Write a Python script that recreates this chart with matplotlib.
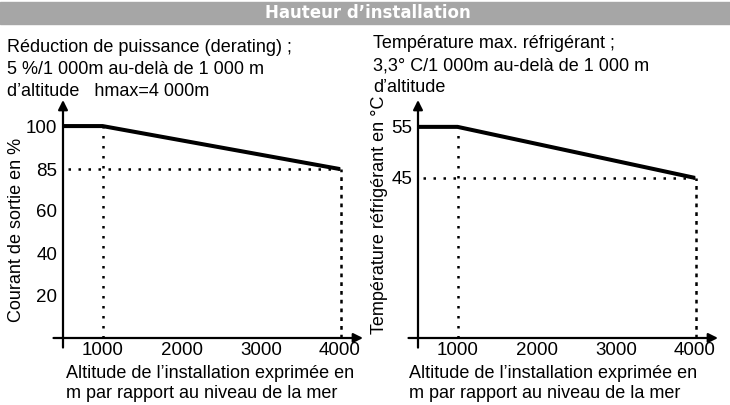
import numpy as np
import matplotlib
matplotlib.use('Agg')
import matplotlib.pyplot as plt
from matplotlib.patches import Rectangle

# data
alt = [500, 1000, 4000]
courant = [100, 100, 85]
temp = [55, 55, 45]
xticks = [1000, 2000, 3000, 4000]
yticks_left = [20, 40, 60, 85, 100]
yticks_right = [45, 55]

W, H = 730, 405
plt.rcParams['font.family'] = ['Liberation Sans', 'DejaVu Sans']
fig = plt.figure(figsize=(W / 100, H / 100), dpi=100)

def fx(px):
    return px / W

def fy(py):
    return 1 - py / H

# bandeau titre
fig.patches.append(Rectangle((0, fy(24)), 1, fy(2) - fy(24), transform=fig.transFigure,
                             color='#a6a6a6', zorder=0))
fig.text(fx(368), fy(13.5), 'Hauteur d\u2019installation', color='white', fontsize=12,
         fontweight='bold', family='DejaVu Sans', ha='center', va='center')

# echelles du schema (non lineaires)
def make_scale(src, dst):
    src = np.array(src, float)
    dst = np.array(dst, float)
    return (lambda v: np.interp(v, src, dst), lambda v: np.interp(v, dst, src))

scale_l = make_scale([-500, 0, 60, 85, 100, 500], [-500, 0, 60, 79.7, 100, 500])
scale_r = make_scale([-500, 0, 45, 55, 500], [-500, 0, 41.7, 55, 500])

def draw(ax, y, yt, scale, ymax, ybot):
    ax.set_yscale('function', functions=scale)
    ax.set_xlim(500, 4290)
    ax.set_ylim(0, ymax)
    for s in ax.spines.values():
        s.set_visible(False)
    ax.plot(alt, y, color='black', lw=2.9, solid_capstyle='butt', zorder=3)
    ax.plot([1000, 1000], [0, y[1]], color='black', lw=1.8, ls=(0, (1, 3)))
    ax.plot([560, alt[2]], [y[2], y[2]], color='black', lw=1.8, ls=(0, (1, 3)))
    ax.plot([alt[2] + 15, alt[2] + 15], [0, y[2]], color='black', lw=1.8, ls=(0, (1.5, 2)))
    # axes avec fleches
    ax.annotate('', xy=(4290, 0), xytext=(380, 0), xycoords='data',
                arrowprops=dict(arrowstyle='-|>', color='black', lw=1.6,
                                mutation_scale=14, shrinkA=0, shrinkB=0),
                annotation_clip=False)
    ax.annotate('', xy=(500, ymax), xytext=(500, ybot), xycoords='data',
                arrowprops=dict(arrowstyle='-|>', color='black', lw=1.6,
                                mutation_scale=14, shrinkA=0, shrinkB=0),
                annotation_clip=False)
    ax.set_xticks(xticks)
    ax.set_xticklabels([str(v) for v in xticks], fontsize=13.5)
    ax.set_yticks(yt)
    ax.set_yticklabels([str(v) for v in yt], fontsize=13.5)
    ax.yaxis.set_minor_locator(plt.NullLocator())
    ax.tick_params(length=0, axis='x', pad=3)
    ax.tick_params(length=0, axis='y', pad=4)
    ax.patch.set_alpha(0)

ax1 = fig.add_axes([fx(63), fy(338), fx(300), (338 - 100) / H])
draw(ax1, courant, yticks_left, scale_l, 112.3, -4.5)
ax2 = fig.add_axes([fx(418), fy(338), fx(300), (338 - 100) / H])
draw(ax2, temp, yticks_right, scale_r, 62.0, -2.5)

# textes
fs = 13
fig.text(fx(7), fy(47), 'Réduction de puissance (derating) ;', fontsize=fs, va='center')
fig.text(fx(7), fy(69), '5 %/1 000m au-delà de 1 000 m', fontsize=fs, va='center')
fig.text(fx(7), fy(91), 'd\u2019altitude   hmax=4 000m', fontsize=fs, va='center')
fig.text(fx(373), fy(44), 'Température max. réfrigérant ;', fontsize=fs, va='center')
fig.text(fx(373), fy(66), '3,3° C/1 000m au-delà de 1 000 m', fontsize=fs, va='center')
fig.text(fx(373), fy(88), 'd\u2019altitude', fontsize=fs, va='center')

fig.text(fx(17), fy(230), 'Courant de sortie en %', fontsize=fs, rotation=90,
         ha='center', va='center')
fig.text(fx(379), fy(215), 'Température réfrigérant en °C', fontsize=fs, rotation=90,
         ha='center', va='center')

for x0 in (66, 409):
    fig.text(fx(x0), fy(373), 'Altitude de l\u2019installation exprimée en', fontsize=fs, va='center')
    fig.text(fx(x0), fy(394), 'm par rapport au niveau de la mer', fontsize=fs, va='center')

fig.savefig('out.png', dpi=100)
